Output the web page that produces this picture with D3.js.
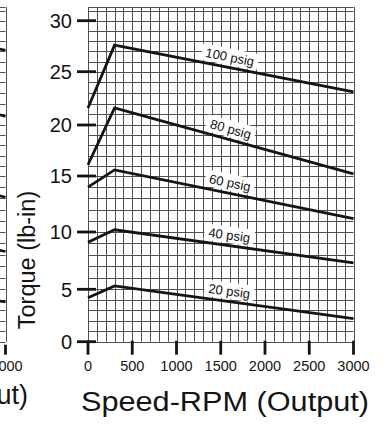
<!DOCTYPE html>
<html><head><meta charset="utf-8">
<script src="https://cdn.jsdelivr.net/npm/d3@7"></script>
<style>
body{margin:0;background:#fff}
svg{display:block;font-family:"Liberation Sans",Arial,Helvetica,sans-serif}
</style>
</head><body>
<svg id="c" width="388" height="426"></svg>
<script>
// ---- data ----
const speeds = [0, 300, 3000];                 // RPM (output)
const seriesNames = ["100 psig", "80 psig", "60 psig", "40 psig", "20 psig"];
const torque100 = [21.6, 27.6, 23.1];          // lb-in
const torque80  = [16.1, 21.6, 15.2];
const torque60  = [14.0, 15.6, 11.2];
const torque40  = [9.1, 10.2, 7.3];
const torque20  = [4.2, 5.3, 2.2];
const xTicks = [0, 500, 1000, 1500, 2000, 2500, 3000];
const yTicks = [0, 5, 10, 15, 20, 25, 30];
const labelSpeed = 1580;
// cropped neighbouring chart on the far left (only its right edge is visible)
const leftSpeeds = [2800, 3000];
const leftTorqueStart = [27.5, 21.3, 13.5, 8.6, 4.0];
const leftTorqueEnd   = [27.1, 20.8, 13.1, 8.3, 3.8];

const allTorque = [torque100, torque80, torque60, torque40, torque20];

// ---- scales ----
const svg = d3.select("#c");
const x = d3.scaleLinear().domain([0, 3000]).range([88, 353.5]);
const y = d3.scaleLinear().domain(yTicks).range([341.7, 289.3, 232, 176, 125, 71.7, 20.7]);
const gridTop = 31.35;
const crisp = v => Math.round(v) + 0.5;
const GRID = "#505050", INK = "#141414";

function drawGrid(g, xs) {
  const gv = g.append("g");
  gv.selectAll("line.v").data(d3.range(0, 3001, 100)).join("line")
    .attr("x1", d => crisp(xs(d))).attr("x2", d => crisp(xs(d)))
    .attr("y1", y(0)).attr("y2", y(gridTop))
    .attr("stroke", GRID).attr("stroke-width", 1);
  gv.selectAll("line.h").data(d3.range(0, 32, 1).concat([gridTop])).join("line")
    .attr("x1", xs(0)).attr("x2", xs(3000))
    .attr("y1", d => crisp(y(d))).attr("y2", d => crisp(y(d)))
    .attr("stroke", GRID).attr("stroke-width", 1);
}

// ---- left cropped chart ----
const leftShift = -348;
const xl = d3.scaleLinear().domain([0, 3000]).range([88 + leftShift, 353.5 + leftShift]);
const left = svg.append("g");
drawGrid(left, xl);
leftTorqueEnd.forEach((t, i) => {
  left.append("path")
    .attr("d", d3.line()([[xl(leftSpeeds[0]), y(leftTorqueStart[i])], [xl(leftSpeeds[1]), y(t)]]))
    .attr("stroke", INK).attr("stroke-width", 2.7).attr("fill", "none");
});
left.append("line").attr("x1", xl(3000)).attr("x2", xl(3000))
  .attr("y1", y(0) + 3).attr("y2", y(0) + 13).attr("stroke", INK).attr("stroke-width", 2.8);
left.append("text").attr("x", xl(3000) + 1).attr("y", 370.5).attr("text-anchor", "middle")
  .attr("font-size", 14.5).attr("fill", INK).text("3000");
left.append("text").attr("x", 28).attr("y", 404).attr("text-anchor", "end")
  .attr("font-size", 27).attr("fill", INK).text("Speed-RPM (Output)");

// ---- main chart ----
const main = svg.append("g");
drawGrid(main, x);

// label boxes + labels
const labelLayer = main.append("g");
allTorque.forEach((tq, i) => {
  const x1 = x(speeds[1]), y1 = y(tq[1]), x2 = x(speeds[2]), y2 = y(tq[2]);
  const ang = Math.atan2(y2 - y1, x2 - x1);
  const f = (labelSpeed - speeds[1]) / (speeds[2] - speeds[1]);
  const px = x1 + (x2 - x1) * f, py = y1 + (y2 - y1) * f;
  const off = 10.5;
  const cx = px + off * Math.sin(ang), cy = py - off * Math.cos(ang);
  const g = labelLayer.append("g")
    .attr("transform", `translate(${cx},${cy}) rotate(${ang * 180 / Math.PI})`);
  const r = g.append("rect").attr("fill", "#fff");
  const t = g.append("text").attr("text-anchor", "middle").attr("dy", "0.35em")
    .attr("font-size", 13).attr("fill", INK).text(seriesNames[i]);
  const w = t.node().getComputedTextLength();
  r.attr("x", -w / 2 - 4).attr("y", -8.5).attr("width", w + 8).attr("height", 16.5);
});

// curves
const line = d3.line().x((d, k) => x(speeds[k])).y(d => y(d));
main.selectAll("path.s").data(allTorque).join("path")
  .attr("d", d => line(d)).attr("fill", "none")
  .attr("stroke", INK).attr("stroke-width", 2.8).attr("stroke-linejoin", "miter");

// y ticks
main.selectAll("line.yt").data(yTicks).join("line")
  .attr("x1", 77).attr("x2", 96).attr("y1", d => y(d)).attr("y2", d => y(d))
  .attr("stroke", INK).attr("stroke-width", 2.8);
main.selectAll("text.yl").data(yTicks).join("text")
  .attr("x", 72).attr("y", d => y(d)).attr("dy", "0.36em").attr("text-anchor", "end")
  .attr("font-size", 20).attr("fill", INK).text(d => d);

// x ticks
main.selectAll("line.xt").data(xTicks).join("line")
  .attr("x1", d => x(d)).attr("x2", d => x(d)).attr("y1", y(0) - 1).attr("y2", y(0) + 13)
  .attr("stroke", INK).attr("stroke-width", 2.8);
main.selectAll("text.xl").data(xTicks).join("text")
  .attr("x", d => x(d)).attr("y", 370.5).attr("text-anchor", "middle")
  .attr("font-size", 14.5).attr("fill", INK).text(d => d);

// axis titles
main.append("text").attr("transform", "translate(35,260) rotate(-90)")
  .attr("text-anchor", "middle").attr("font-size", 23.5).attr("fill", INK).text("Torque (lb-in)");
main.append("text").attr("x", 225).attr("y", 411).attr("text-anchor", "middle")
  .attr("font-size", 27).attr("textLength", 288).attr("lengthAdjust", "spacingAndGlyphs")
  .attr("fill", INK).text("Speed-RPM (Output)");
</script>
</body></html>
